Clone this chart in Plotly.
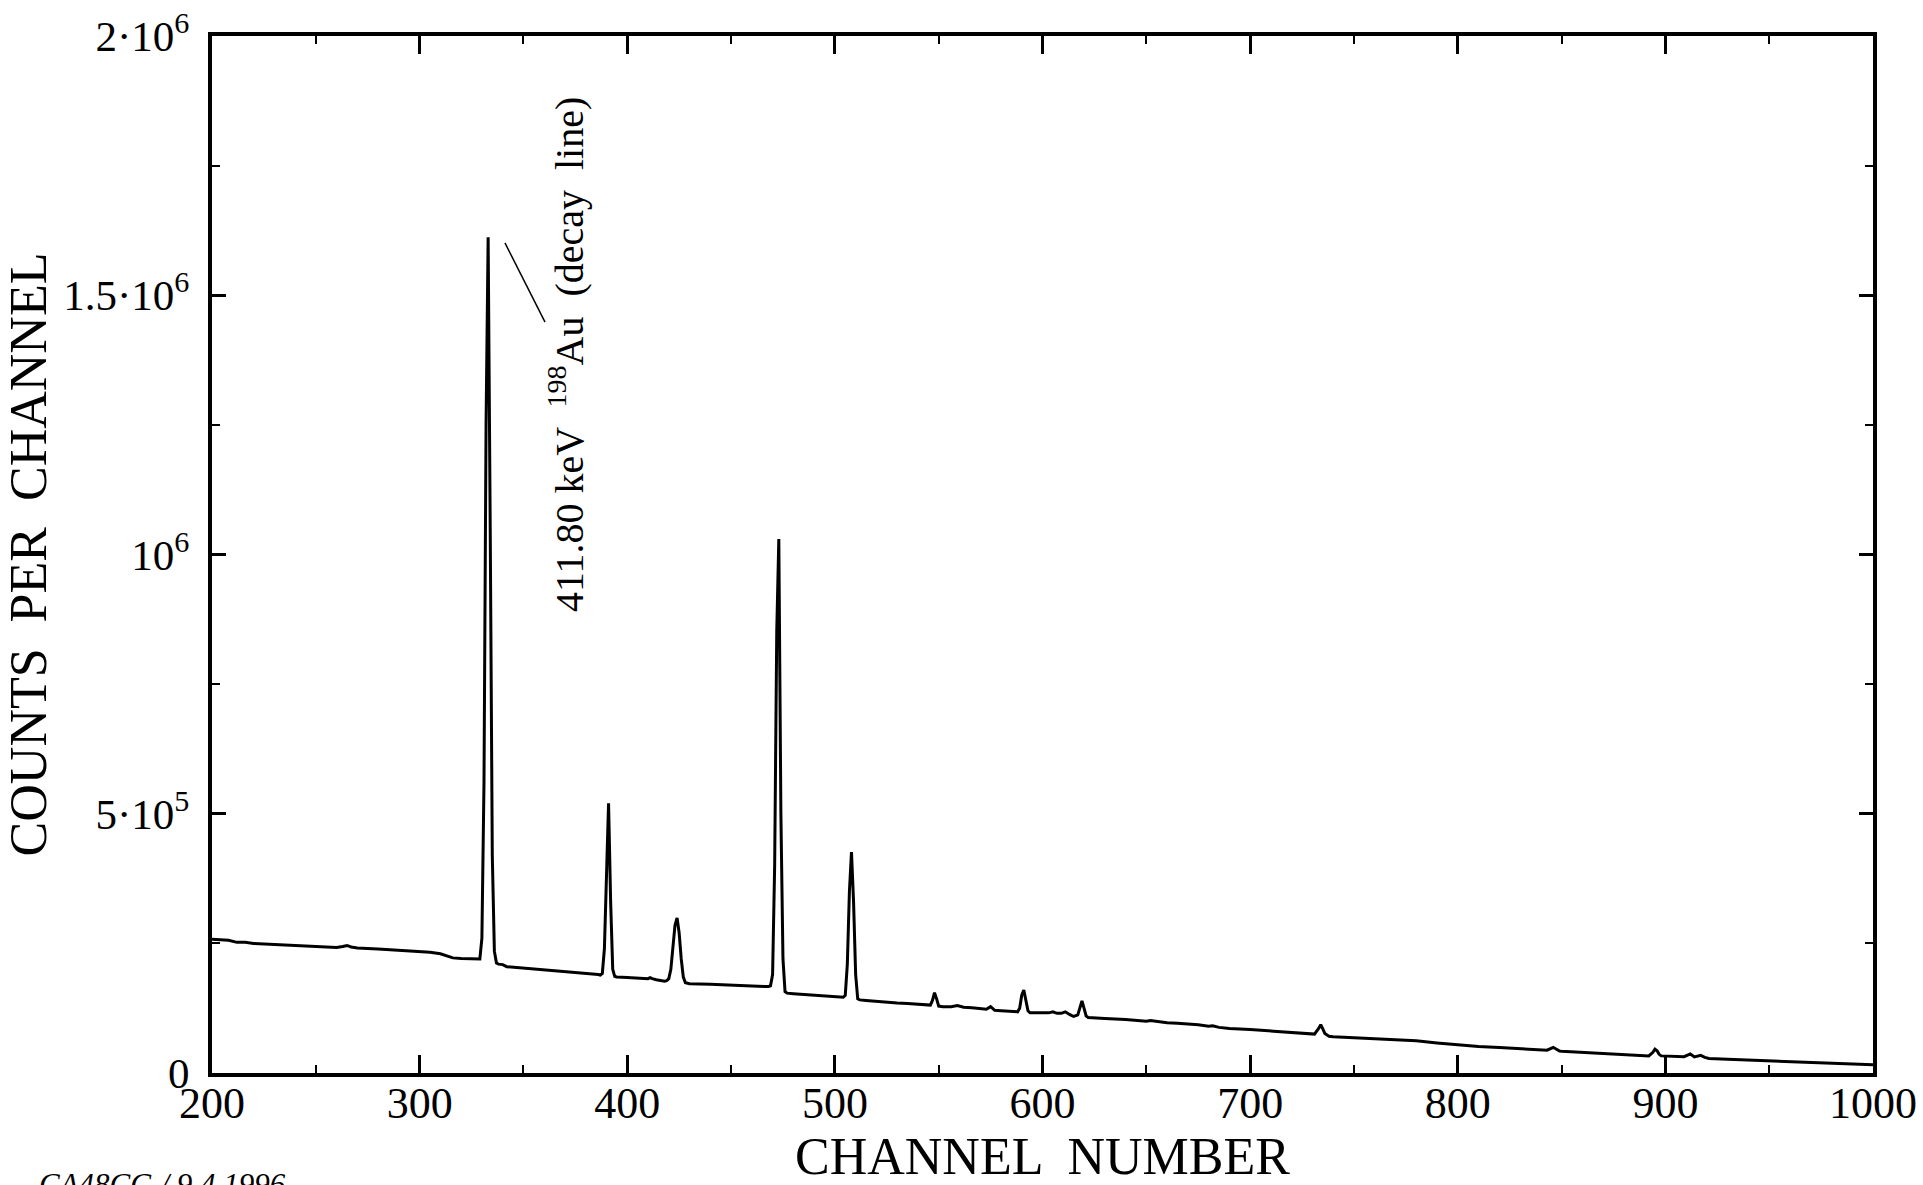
import plotly.graph_objects as go

# ---- data (channel, counts per channel) ----
channels = [
    200, 204, 208, 212, 216, 220, 230, 240, 250, 260, 263, 265, 267, 270, 280, 290, 300, 305, 310, 313, 316, 320, 325,
    328, 329, 330, 331, 332, 333, 334, 335, 336, 337, 338,
    340, 342, 345, 350, 360, 370, 380, 386,
    387, 388, 389, 390, 391, 392, 393, 394,
    395, 400, 405, 410, 411, 412, 414, 416,
    418, 419, 420, 421, 422, 423, 424, 425, 426, 427, 428, 429,
    430, 440, 450, 460, 466,
    468, 469, 470, 471, 472, 473, 474, 475, 476, 477,
    480, 490, 500, 503,
    504, 505, 506, 507, 508, 509, 510, 511, 512,
    515, 520, 525, 530, 535, 540, 543,
    546, 547, 548, 549, 550, 552, 556, 559, 562, 566, 570, 573, 575, 577, 580, 585,
    588, 589, 590, 591, 592, 593, 594,
    598, 603, 605, 607, 609, 611, 613, 615,
    617, 618, 619, 620, 621, 622,
    625, 630, 640, 650, 652, 655, 660, 665, 668, 670, 675, 680, 682, 685, 690, 700, 710, 720, 730,
    731, 733, 734, 735, 736, 738,
    740, 750, 760, 772, 780, 790, 800, 810, 820, 830, 840, 843,
    846, 849, 850, 860, 870, 880, 890, 892,
    894, 895, 896, 897, 898,
    900, 905, 909, 911, 912, 914, 916, 917, 919, 921,
    930, 940, 950, 960, 970, 980, 990, 1000,
]
counts = [
    258e3, 257e3, 256e3, 252e3, 252e3, 250e3, 248e3, 246e3, 244e3, 242e3, 244e3, 246e3, 243e3, 241e3, 239e3, 237e3, 234e3, 233e3, 230e3, 226e3, 222e3, 221e3, 220e3,
    219e3, 220e3, 260e3, 560e3, 1250e3, 1612e3, 1050e3, 420e3, 235e3, 212e3, 210e3,
    209e3, 205e3, 204e3, 203e3, 199e3, 195e3, 192e3, 190e3,
    189e3, 192e3, 240e3, 400e3, 520e3, 330e3, 200e3, 186e3,
    185e3, 184e3, 183e3, 182e3, 184e3, 182e3, 180e3, 178e3,
    177e3, 178e3, 182e3, 200e3, 240e3, 285e3, 299e3, 270e3, 220e3, 185e3, 174e3, 173e3,
    172e3, 171e3, 169e3, 168e3, 167e3,
    167e3, 168e3, 190e3, 400e3, 850e3, 1030e3, 500e3, 220e3, 157e3, 154e3,
    153e3, 150e3, 147e3, 146e3,
    146e3, 150e3, 210e3, 350e3, 426e3, 330e3, 190e3, 143e3, 141e3,
    140e3, 138e3, 137e3, 135e3, 134e3, 133e3, 132e3,
    131e3, 140e3, 155e3, 143e3, 129e3, 128e3, 128e3, 130e3, 127e3, 126e3, 124e3, 123e3, 128e3, 121e3, 120e3, 119e3,
    118e3, 125e3, 150e3, 160e3, 140e3, 120e3, 116e3,
    116e3, 116e3, 118e3, 115e3, 115e3, 118e3, 113e3, 109e3,
    112e3, 125e3, 139e3, 125e3, 110e3, 107e3,
    106e3, 105e3, 103e3, 100e3, 101e3, 99e3, 97e3, 96e3, 95e3, 95.5e3, 93e3, 90e3, 91e3, 88e3, 86e3, 84e3, 81e3, 78e3, 75e3,
    75e3, 86e3, 93e3, 85e3, 76e3, 71e3,
    70e3, 68e3, 66e3, 64e3, 62e3, 58e3, 54e3, 51e3, 49e3, 47e3, 45e3, 44e3,
    49.5e3, 42.4e3, 42e3, 40e3, 38e3, 36e3, 33.5e3, 33e3,
    40e3, 46e3, 43e3, 36e3, 33e3,
    32.5e3, 32e3, 31.5e3, 35e3, 36.6e3, 31e3, 33e3, 34e3, 30e3, 28e3,
    26.5e3, 25e3, 24e3, 22.5e3, 21e3, 19.5e3, 18e3, 16e3,
]

x_ticks = [200, 300, 400, 500, 600, 700, 800, 900, 1000]
x_ticktext = ["200", "300", "400", "500", "600", "700", "800", "900", "1000"]
y_ticks = [0, 5e5, 1e6, 1.5e6, 2e6]
y_ticktext = ["0", "5·10<sup>5</sup>", "10<sup>6</sup>", "1.5·10<sup>6</sup>", "2·10<sup>6</sup>"]

peak_label = "411.80 keV  <sup>198</sup>Au  (decay  line)"
x_title = "CHANNEL  NUMBER"
y_title = "COUNTS  PER  CHANNEL"
footer = "CA48CG / 9.4.1996"

FONT = "Liberation Serif, Times New Roman, serif"

fig = go.Figure()
fig.add_trace(go.Scatter(
    x=channels, y=counts, mode="lines",
    line=dict(color="black", width=3),
    showlegend=False, hoverinfo="x+y",
))

axis_common = dict(
    showline=True, linecolor="black", linewidth=4, mirror="ticks",
    ticks="inside", tickcolor="black", showgrid=False, zeroline=False,
    automargin=False,
)

fig.update_xaxes(
    range=[200, 1000], tickmode="array", tickvals=x_ticks, ticktext=x_ticktext,
    tickfont=dict(family=FONT, size=44, color="black"),
    ticklen=18, tickwidth=2.5, ticklabelstandoff=-12,
    minor=dict(ticks="inside", dtick=50, ticklen=8, tickwidth=2, tickcolor="black", showgrid=False),
    title=dict(text=x_title, font=dict(family=FONT, size=52, color="black"), standoff=0),
    **axis_common,
)
fig.update_yaxes(
    range=[0, 2e6], tickmode="array", tickvals=y_ticks, ticktext=y_ticktext,
    tickfont=dict(family=FONT, size=43, color="black"),
    ticklen=14, tickwidth=2.5, ticklabelstandoff=10,
    minor=dict(ticks="inside", dtick=2.5e5, ticklen=8, tickwidth=2, tickcolor="black", showgrid=False),
    title=dict(text=y_title, font=dict(family=FONT, size=52, color="black"), standoff=6),
    **axis_common,
)

fig.add_annotation(
    x=371, y=1.385e6, xref="x", yref="y", text=peak_label, textangle=-90,
    showarrow=False, xanchor="center", yanchor="middle",
    font=dict(family=FONT, size=40, color="black"),
)
fig.add_shape(type="line", xref="x", yref="y", x0=341.1, y0=1.601e6, x1=360.4, y1=1.448e6,
              line=dict(color="black", width=1.5))

fig.add_annotation(
    x=-0.1054, y=-0.089, xref="paper", yref="paper", text="<i>" + footer + "</i>",
    showarrow=False, xanchor="left", yanchor="top",
    font=dict(family=FONT, size=31, color="black"),
)

fig.update_layout(
    width=1923, height=1185,
    margin=dict(l=212, r=50, t=36, b=112, autoexpand=False),
    paper_bgcolor="white", plot_bgcolor="white",
    font=dict(family=FONT, color="black"),
)

fig.write_html(
    "out.html",
    config={"displayModeBar": False},
    post_script="document.body.style.margin='0';document.body.style.overflow='hidden';",
)
